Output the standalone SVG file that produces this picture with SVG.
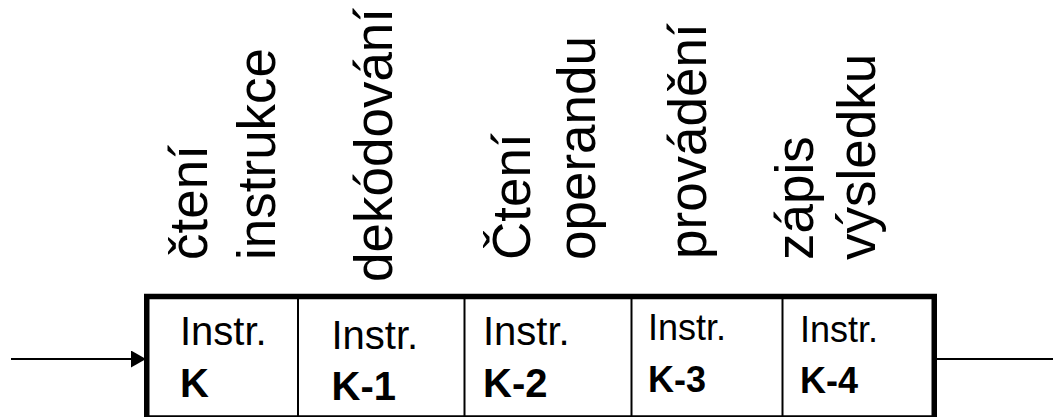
<svg xmlns="http://www.w3.org/2000/svg" width="1053" height="417" viewBox="0 0 1053 417">
<style>
text{font-family:"Liberation Sans",Arial,sans-serif;fill:#000}
.v{font-size:53px}
.i{font-size:40px}
.s{font-size:36px}
.b{font-weight:bold}
.div{stroke:#000;stroke-width:2}
.wire{stroke:#000;stroke-width:2;fill:none}
</style>
<defs>
<marker id="ah" markerUnits="userSpaceOnUse" markerWidth="16" markerHeight="18" refX="15" refY="8.5" orient="auto">
<path d="M0,0 L15,8.5 L0,17 Z" fill="#000"/>
</marker>
</defs>
<g id="labels">
<text class="v" transform="translate(207,260) rotate(-90)">čtení</text>
<text class="v" transform="translate(275,260) rotate(-90)">instrukce</text>
<text class="v" transform="translate(392,282) rotate(-90)">dekódování</text>
<text class="v" transform="translate(530,260) rotate(-90)">Čtení</text>
<text class="v" transform="translate(595,260) rotate(-90)">operandu</text>
<text class="v" transform="translate(706,259) rotate(-90)">provádění</text>
<text class="v" transform="translate(813,260) rotate(-90)">zápis</text>
<text class="v" transform="translate(875,260) rotate(-90)">výsledku</text>
</g>
<g id="pipeline">
<rect x="146.75" y="296.5" width="787.5" height="121.5" fill="none" stroke="#000" stroke-width="5.5"/>
<line class="div" x1="298" y1="299" x2="298" y2="416"/>
<line class="div" x1="464.5" y1="299" x2="464.5" y2="416"/>
<line class="div" x1="631.5" y1="299" x2="631.5" y2="416"/>
<line class="div" x1="782.5" y1="299" x2="782.5" y2="416"/>
</g>
<g id="cell1"><text class="i" x="180" y="345">Instr.</text><text class="i b" x="180" y="397">K</text></g>
<g id="cell2"><text class="i" x="331.5" y="349">Instr.</text><text class="i b" x="331.5" y="400">K-1</text></g>
<g id="cell3"><text class="i" x="483" y="345">Instr.</text><text class="i b" x="483" y="397">K-2</text></g>
<g id="cell4"><text class="s" x="648" y="339.5">Instr.</text><text class="s b" x="648" y="391.5">K-3</text></g>
<g id="cell5"><text class="s" x="800" y="341.5">Instr.</text><text class="s b" x="800" y="393">K-4</text></g>
<g id="connectors">
<line class="wire" x1="11" y1="359" x2="146" y2="359" marker-end="url(#ah)"/>
<line class="wire" x1="937" y1="359" x2="1053" y2="359"/>
</g>
</svg>
